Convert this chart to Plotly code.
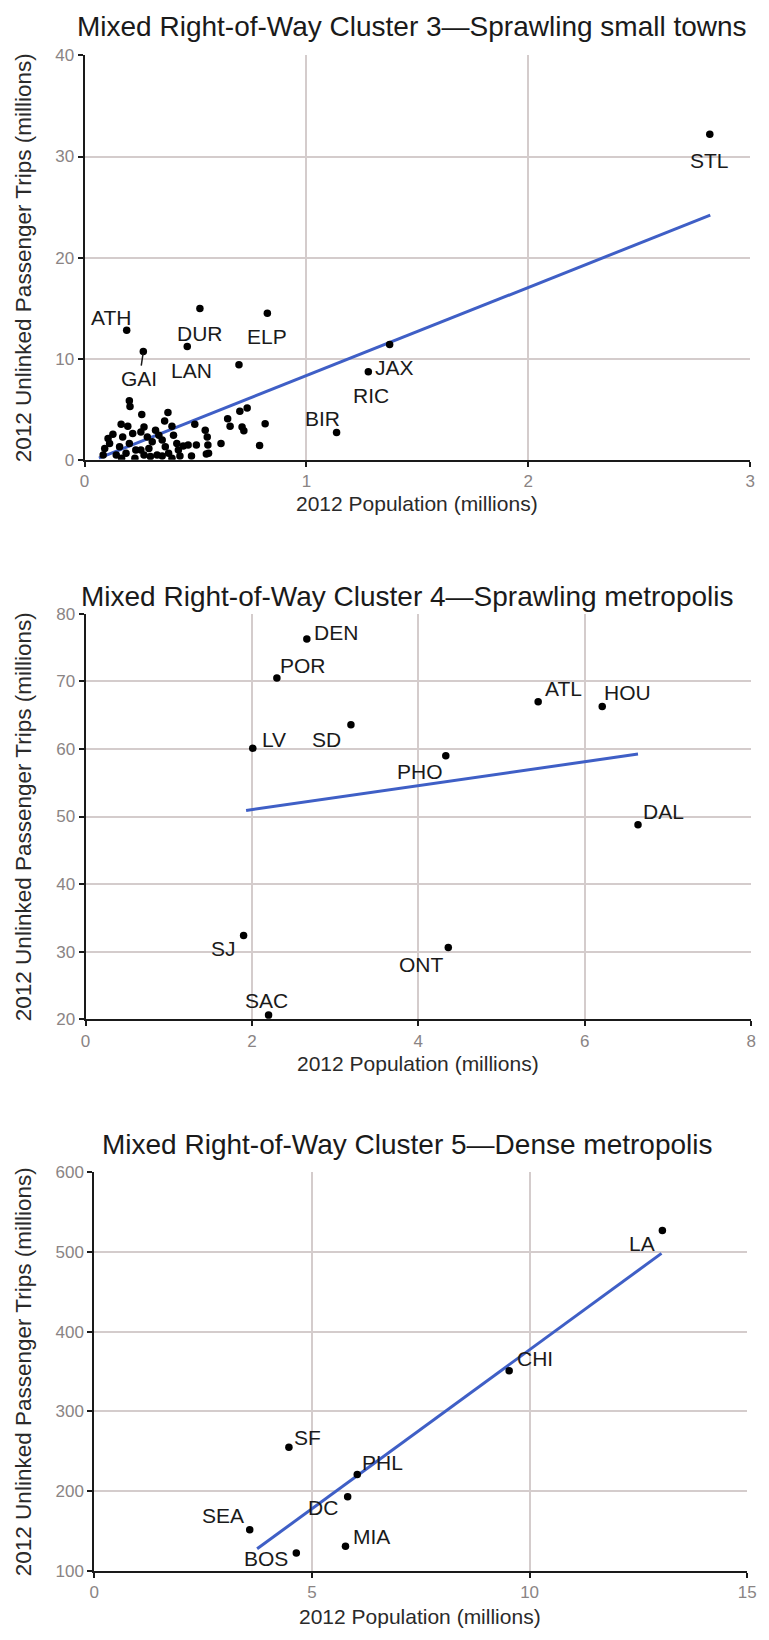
import plotly.graph_objects as go

W, H = 769, 1640

# ---------------- DATA ----------------
# Cluster 3 — Sprawling small towns
c3_names = ["ATH", "GAI", "DUR", "LAN", "ELP", "JAX", "RIC", "BIR", "STL"]
c3_named_x = [0.19, 0.265, 0.52, 0.463, 0.824, 1.375, 1.279, 1.136, 2.818]
c3_named_y = [12.8, 10.7, 14.96, 11.2, 14.5, 11.4, 8.7, 2.7, 32.2]
c3_other_x = [0.696, 0.202, 0.205, 0.258, 0.376, 0.361, 0.165, 0.195, 0.268, 0.128,
              0.217, 0.254, 0.320, 0.394, 0.401, 0.283, 0.350, 0.113, 0.091, 0.158,
              0.202, 0.231, 0.290, 0.364, 0.416, 0.423, 0.084, 0.143, 0.187, 0.268,
              0.327, 0.379, 0.430, 0.482, 0.350, 0.394, 0.497, 0.544, 0.553, 0.467,
              0.504, 0.556, 0.559, 0.549, 0.615, 0.645, 0.656, 0.700, 0.733, 0.710,
              0.718, 0.814, 0.789, 0.106, 0.305, 0.335, 0.172, 0.254, 0.297, 0.445,
              0.227, 0.167]
c3_other_y = [9.4, 5.84, 5.26, 4.47, 4.67, 3.82, 3.5, 3.3, 3.24, 2.52,
              2.59, 2.75, 2.91, 3.3, 2.42, 2.26, 1.94, 1.61, 1.12, 1.28,
              1.61, 0.96, 1.12, 1.28, 1.61, 0.96, 0.47, 0.47, 0.63, 0.47,
              0.47, 0.63, 0.37, 0.37, 0.37, 0.15, 3.5, 2.91, 2.26, 1.45,
              1.45, 1.45, 0.63, 0.57, 1.61, 4.05, 3.3, 4.8, 5.12, 3.24,
              2.86, 3.56, 1.41, 2.1, 1.77, 2.42, 2.26, 0.96, 0.31, 1.35,
              0.15, 0.15]
c3_trend_x = [0.065, 2.82]
c3_trend_y = [0.16, 24.2]

# Cluster 4 — Sprawling metropolis
c4_names = ["DEN", "POR", "LV", "SD", "PHO", "ATL", "HOU", "DAL", "SJ", "ONT", "SAC"]
c4_x = [2.66, 2.30, 2.01, 3.19, 4.33, 5.44, 6.21, 6.64, 1.90, 4.36, 2.20]
c4_y = [76.3, 70.5, 60.1, 63.6, 59.0, 67.0, 66.3, 48.8, 32.4, 30.6, 20.6]
c4_trend_x = [1.93, 6.64]
c4_trend_y = [50.9, 59.25]

# Cluster 5 — Dense metropolis
c5_names = ["LA", "CHI", "SF", "PHL", "DC", "SEA", "MIA", "BOS"]
c5_x = [13.05, 9.53, 4.47, 6.04, 5.82, 3.57, 5.77, 4.64]
c5_y = [527, 351, 254.8, 220.6, 192.8, 151.4, 130.8, 122.3]
c5_trend_x = [3.74, 13.03]
c5_trend_y = [127.5, 498.3]

titles = ["Mixed Right-of-Way Cluster 3\u2014Sprawling small towns",
          "Mixed Right-of-Way Cluster 4\u2014Sprawling metropolis",
          "Mixed Right-of-Way Cluster 5\u2014Dense metropolis"]
x_title = "2012 Population (millions)"
y_title = "2012 Unlinked Passenger Trips (millions)"

x_ranges = [[0, 3], [0, 8], [0, 15]]
x_dticks = [1, 2, 5]
y_ranges = [[0, 40], [20, 80], [100, 600]]
y_dticks = [10, 10, 100]

# ---------------- LAYOUT (pixel boxes) ----------------
plot_boxes = [(81, 759, 47, 456), (82, 760, 612, 1022), (91, 756, 1177, 1580)]
title_pos = [(415, 18), (410, 594), (410, 1149)]
xtitle_pos = [(420, 500), (421, 1067), (423, 1626)]
ytitle_x = 19

# label offsets (xshift, yshift) in px (yshift positive = up)
off3 = {"ATH": (-16, 13), "GAI": (-4, -27), "DUR": (0, -25), "LAN": (4, -24),
        "ELP": (0, -23), "JAX": (5, -23), "RIC": (3, -24), "BIR": (-14, 14),
        "STL": (0, -26)}
off4 = {"DEN": (29, 6), "POR": (26, 13), "LV": (21, 9), "SD": (-24, -15),
        "PHO": (-26, -16), "ATL": (25, 13), "HOU": (25, 14), "DAL": (25, 13),
        "SJ": (-20, -13), "ONT": (-27, -17), "SAC": (-2, 15)}
off5 = {"LA": (-20, -13), "CHI": (26, 12), "SF": (19, 10), "PHL": (25, 12),
        "DC": (-25, -11), "SEA": (-27, 14), "MIA": (26, 10), "BOS": (-30, -6)}

FONT = "Liberation Sans, Arial, sans-serif"
GRID = "#d4cccc"
TICKC = "#8a8484"
LINEC = "#3f5fc6"

fig = go.Figure()
annotations = []

def axname(i, kind):
    return kind if i == 0 else f"{kind}{i+1}"

def add_scatter(i, xs, ys, size=7.5):
    fig.add_trace(go.Scatter(x=xs, y=ys, mode="markers",
                             marker=dict(color="black", size=size),
                             xaxis=axname(i, "x"), yaxis=axname(i, "y"),
                             showlegend=False, hoverinfo="skip"))

def add_trend(i, xs, ys):
    fig.add_trace(go.Scatter(x=xs, y=ys, mode="lines",
                             line=dict(color=LINEC, width=3),
                             xaxis=axname(i, "x"), yaxis=axname(i, "y"),
                             showlegend=False, hoverinfo="skip"))

def add_labels(i, names, xs, ys, offs, arrow_names=()):
    for n, xv, yv in zip(names, xs, ys):
        dx, dy = offs[n]
        common = dict(x=xv, y=yv, text=n, xref=axname(i, "x"), yref=axname(i, "y"),
                      font=dict(family=FONT, size=21, color="#1a1a1a"))
        if n in arrow_names:
            annotations.append(dict(showarrow=True, arrowhead=0, arrowwidth=1.5,
                                    arrowcolor="#1a1a1a", ax=dx, ay=-dy,
                                    standoff=2, **common))
        else:
            annotations.append(dict(showarrow=False, xshift=dx, yshift=dy, **common))

# chart 1
add_trend(0, c3_trend_x, c3_trend_y)
add_scatter(0, c3_other_x, c3_other_y)
add_scatter(0, c3_named_x, c3_named_y)
add_labels(0, c3_names, c3_named_x, c3_named_y, off3, arrow_names=("GAI",))
# chart 2
add_trend(1, c4_trend_x, c4_trend_y)
add_scatter(1, c4_x, c4_y)
add_labels(1, c4_names, c4_x, c4_y, off4)
# chart 3
add_trend(2, c5_trend_x, c5_trend_y)
add_scatter(2, c5_x, c5_y)
add_labels(2, c5_names, c5_x, c5_y, off5)

layout = dict(width=W, height=H, margin=dict(l=0, r=0, t=0, b=0),
              paper_bgcolor="white", plot_bgcolor="white",
              font=dict(family=FONT), showlegend=False)

for i in range(3):
    l, r, t, b = plot_boxes[i]
    xa = dict(domain=[l / W, r / W], range=x_ranges[i], dtick=x_dticks[i], tick0=0,
              anchor=axname(i, "y"), showgrid=True, gridcolor=GRID, gridwidth=1.5,
              showline=True, linecolor="#1a1a1a", linewidth=2, ticks="outside",
              ticklen=5, tickcolor="#1a1a1a", tickwidth=1.5, zeroline=False,
              tickfont=dict(family=FONT, size=17, color=TICKC), fixedrange=True)
    ya = dict(domain=[1 - b / H, 1 - t / H], range=y_ranges[i], dtick=y_dticks[i],
              tick0=0, anchor=axname(i, "x"), showgrid=True, gridcolor=GRID,
              gridwidth=1.5, showline=True, linecolor="#1a1a1a", linewidth=2,
              ticks="outside", ticklen=5, tickcolor="#1a1a1a", tickwidth=1.5,
              zeroline=False, tickfont=dict(family=FONT, size=17, color=TICKC),
              fixedrange=True)
    layout["xaxis" if i == 0 else f"xaxis{i+1}"] = xa
    layout["yaxis" if i == 0 else f"yaxis{i+1}"] = ya

    tx, ty = title_pos[i]
    annotations.append(dict(text=titles[i], xref="paper", yref="paper",
                            x=tx / W, y=1 - ty / H, xanchor="center", yanchor="middle",
                            showarrow=False,
                            font=dict(family=FONT, size=28, color="#1a1a1a")))
    xx, xy = xtitle_pos[i]
    annotations.append(dict(text=x_title, xref="paper", yref="paper",
                            x=xx / W, y=1 - xy / H, xanchor="center", yanchor="middle",
                            showarrow=False,
                            font=dict(family=FONT, size=21, color="#2a2a2a")))
    annotations.append(dict(text=y_title, xref="paper", yref="paper",
                            x=ytitle_x / W, y=1 - ((t + b) / 2) / H,
                            xanchor="center", yanchor="middle", textangle=-90,
                            showarrow=False,
                            font=dict(family=FONT, size=22.5, color="#2a2a2a")))

layout["annotations"] = annotations
fig.update_layout(**layout)
fig.write_html("out.html", config={"displayModeBar": False},
               post_script="document.body.style.margin='0';"
                           "document.body.style.padding='0';"
                           "document.documentElement.style.overflow='hidden';")
